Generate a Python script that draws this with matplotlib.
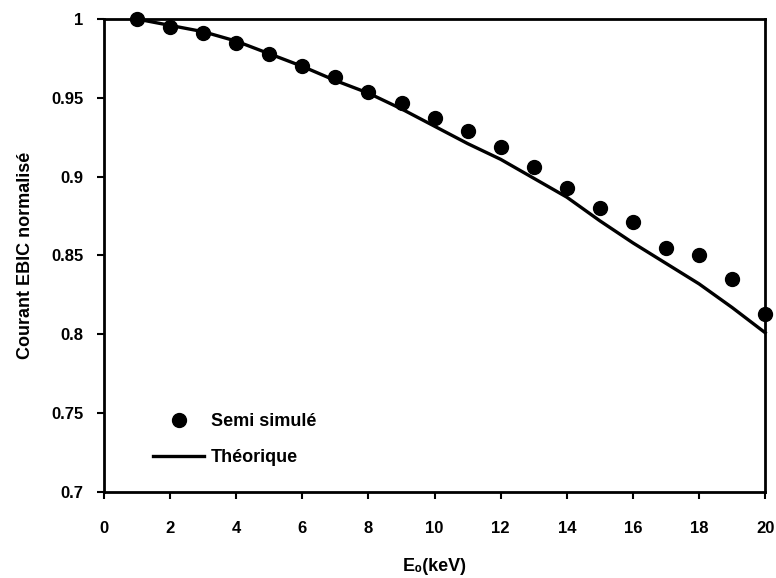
import matplotlib
matplotlib.use('Agg')
import matplotlib.pyplot as plt
from matplotlib.ticker import FixedLocator, FixedFormatter

# Data
energy = [1, 2, 3, 4, 5, 6, 7, 8, 9, 10, 11, 12, 13, 14, 15, 16, 17, 18, 19, 20]
semi_simule = [1.0, 0.995, 0.991, 0.985, 0.978, 0.970, 0.963, 0.954, 0.947, 0.937,
               0.929, 0.919, 0.906, 0.893, 0.880, 0.871, 0.855, 0.850, 0.835, 0.813]
theorique = [1.0, 0.996, 0.992, 0.986, 0.978, 0.970, 0.961, 0.953, 0.943, 0.932,
             0.921, 0.911, 0.899, 0.887, 0.872, 0.858, 0.845, 0.832, 0.817, 0.801]

x_ticks = [0, 2, 4, 6, 8, 10, 12, 14, 16, 18, 20]
y_ticks = [0.7, 0.75, 0.8, 0.85, 0.9, 0.95, 1.0]
y_labels = ['0.7', '0.75', '0.8', '0.85', '0.9', '0.95', '1']

plt.rcParams['font.family'] = ['Liberation Sans', 'DejaVu Sans']
plt.rcParams['font.weight'] = 'bold'

fig = plt.figure(figsize=(7.76, 5.78), dpi=100)
ax = fig.add_axes([0.134, 0.149, 0.852, 0.818])

ax.plot(energy, semi_simule, 'o', color='black', markersize=10, label='Semi simulé',
        clip_on=False, zorder=3)
ax.plot(energy, theorique, '-', color='black', linewidth=2.4, label='Théorique',
        clip_on=False, zorder=2)

ax.set_xlim(0, 20)
ax.set_ylim(0.7, 1.0)
ax.xaxis.set_major_locator(FixedLocator(x_ticks))
ax.yaxis.set_major_locator(FixedLocator(y_ticks))
ax.yaxis.set_major_formatter(FixedFormatter(y_labels))
ax.tick_params(axis='both', direction='out', length=5, width=1.5, labelsize=12, pad=16)
ax.tick_params(axis='y', pad=10)

for s in ax.spines.values():
    s.set_linewidth(2)
    s.set_color('black')

ax.set_xlabel('E₀(keV)', fontsize=13, fontweight='bold', labelpad=16)
ax.set_ylabel('Courant EBIC normalisé', fontsize=13, fontweight='bold', labelpad=12)

leg = ax.legend(loc='lower left', bbox_to_anchor=(0.05, 0.02), frameon=False,
                fontsize=13, handlelength=2.8, handletextpad=0.4, labelspacing=1.05)

fig.savefig('out.png', dpi=100)
